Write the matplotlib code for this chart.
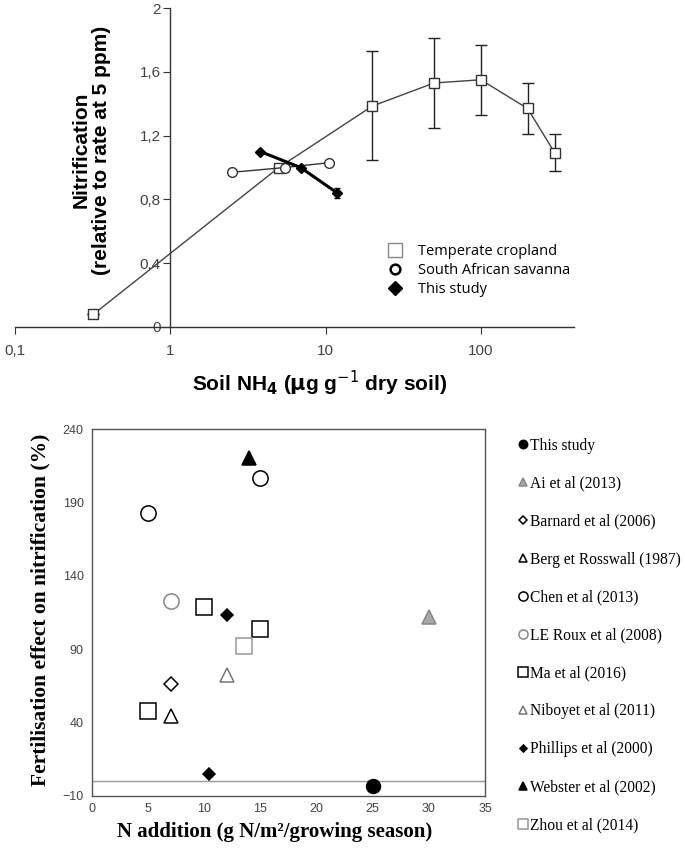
import matplotlib
matplotlib.use("Agg")
import matplotlib.pyplot as plt
from matplotlib.lines import Line2D
from matplotlib.ticker import FixedLocator, FuncFormatter, NullLocator

# ---------------- data: top panel ----------------
crop_x = [0.32, 5, 20, 50, 100, 200, 300]
crop_y = [0.08, 1.0, 1.385, 1.53, 1.55, 1.37, 1.09]
crop_err_lo = [0, 0, 0.335, 0.28, 0.22, 0.16, 0.11]
crop_err_hi = [0, 0, 0.345, 0.28, 0.22, 0.16, 0.12]

sav_x = [2.5, 5.5, 10.5]
sav_y = [0.97, 1.0, 1.03]

this_x = [3.8, 6.9, 11.9]
this_y = [1.10, 1.00, 0.84]
this_err = [0.0, 0.0, 0.03]

top_yticks = [0, 0.4, 0.8, 1.2, 1.6, 2]
top_xticks = [0.1, 1, 10, 100]
top_xticklabels = ["0,1", "1", "10", "100"]

# ---------------- data: bottom panel ----------------
studies = ["This study", "Ai et al (2013)", "Barnard et al (2006)", "Berg et Rosswall (1987)",
           "Chen et al (2013)", "LE Roux et al (2008)", "Ma et al (2016)", "Niboyet et al (2011)",
           "Phillips et al (2000)", "Webster et al (2002)", "Zhou et al (2014)"]
study_x = [[25], [30], [7], [7], [5, 15], [7], [5, 10, 15], [12], [12, 10.4], [14], [13.5]]
study_y = [[-3], [112], [66], [44.5], [183, 206.5], [123], [48, 119, 103.5], [72.5], [113, 5], [220], [92.5]]

bottom_xticks = [0, 5, 10, 15, 20, 25, 30, 35]
bottom_yticks = [-10, 40, 90, 140, 190, 240]

# marker styles (marker, facecolor, edgecolor, size)
styles = [
    ("o", "black", "black", 10),
    ("^", "#a8a8a8", "#888888", 10),
    ("D", "white", "black", 7),
    ("^", "white", "black", 10),
    ("o", "white", "black", 11),
    ("o", "white", "#888888", 11),
    ("s", "white", "black", 11),
    ("^", "white", "#777777", 10),
    ("D", "black", "black", 6),
    ("^", "black", "black", 10),
    ("s", "white", "#999999", 11),
]

plt.rcParams['font.family'] = ['Liberation Sans', 'DejaVu Sans']

fig = plt.figure(figsize=(6.85, 8.5), dpi=100)
W, H = 685, 850

# ================= TOP PANEL =================
ax1 = fig.add_axes([15 / W, 1 - 327 / H, (574 - 15) / W, (327 - 8) / H])
ax1.set_xscale("log")
ax1.set_xlim(0.1, 10 ** (2 + (574 - 481) / 155))
ax1.set_ylim(0, 2)
ax1.spines['top'].set_visible(False)
ax1.spines['right'].set_visible(False)
ax1.spines['left'].set_position(('data', 1))
for s in ['left', 'bottom']:
    ax1.spines[s].set_color('#333333')
    ax1.spines[s].set_linewidth(1.0)
ax1.xaxis.set_major_locator(FixedLocator(top_xticks))
ax1.xaxis.set_minor_locator(NullLocator())
ax1.set_xticklabels(top_xticklabels)
ax1.yaxis.set_major_locator(FixedLocator(top_yticks))
ax1.yaxis.set_major_formatter(FuncFormatter(lambda v, p: ("%g" % v).replace(".", ",")))
ax1.tick_params(axis='both', direction='out', length=5, color='#333333',
                labelsize=11, labelcolor='#444444')
ax1.tick_params(axis='x', pad=7)
ax1.tick_params(axis='y', pad=2)

ax1.errorbar(crop_x, crop_y, yerr=[crop_err_lo, crop_err_hi], color='#444444', lw=1.0,
             marker='s', ms=7, mfc='white', mec='#333333', mew=1.0, capsize=4,
             elinewidth=1.0, ecolor='#222222', zorder=3)
ax1.plot(sav_x, sav_y, color='#333333', lw=1.0, marker='o', ms=7, mfc='white',
         mec='#333333', mew=1.0, zorder=4)
ax1.errorbar(this_x, this_y, yerr=this_err, color='black', lw=2.2, marker='D', ms=5,
             mfc='black', mec='black', capsize=2, elinewidth=1.0, zorder=5)

h_top = [
    Line2D([], [], ls='none', marker='s', ms=10, mfc='white', mec='#888888', mew=1.0),
    Line2D([], [], ls='none', marker='o', ms=7, mfc='white', mec='black', mew=1.8),
    Line2D([], [], ls='none', marker='D', ms=7, mfc='black', mec='black'),
]
fig.legend(h_top, ["Temperate cropland", "South African savanna", "This study"],
           loc='upper left', bbox_to_anchor=(379 / W, 1 - 237 / H), frameon=False,
           prop={'family': 'Open Sans', 'size': 10.5}, handletextpad=1.0,
           labelspacing=0.28, borderpad=0, handlelength=1.2)

fig.text(91 / W, 1 - 150 / H, "Nitrification\n(relative to rate at 5 ppm)", rotation=90,
         ha='center', va='center', multialignment='center', fontsize=15,
         fontweight='bold', linespacing=1.1)
fig.text(320 / W, 1 - 383 / H,
         r"Soil NH$_\mathbf{4}$ ($\mathbf{\mu}$g g$^{\mathsf{-1}}$ dry soil)",
         ha='center', va='center', fontsize=15, fontweight='bold')

# ================= BOTTOM PANEL =================
ax2 = fig.add_axes([92 / W, 1 - 796 / H, (485 - 92) / W, (796 - 429) / H])
ax2.set_xlim(0, 35)
ax2.set_ylim(-10, 240)
for s in ax2.spines.values():
    s.set_color('#555555')
    s.set_linewidth(1.0)
ax2.axhline(0, color='#999999', lw=1.0, zorder=1)
ax2.xaxis.set_major_locator(FixedLocator(bottom_xticks))
ax2.yaxis.set_major_locator(FixedLocator(bottom_yticks))
ax2.tick_params(axis='both', length=0, labelsize=9, labelcolor='#444444')
ax2.tick_params(axis='x', pad=5)
ax2.tick_params(axis='y', pad=6)

handles = []
for name, xs, ys, (m, fc, ec, sz) in zip(studies, study_x, study_y, styles):
    ln, = ax2.plot(xs, ys, ls='none', marker=m, ms=sz, mfc=fc, mec=ec, mew=1.1,
                   label=name, zorder=3)
    handles.append(ln)

fig.legend(handles, studies, loc='upper left', bbox_to_anchor=(511 / W, 1 - 430 / H),
           frameon=False, prop={'family': 'Liberation Serif', 'size': 11.2},
           markerscale=0.6, handlelength=0.5, handletextpad=0.2,
           labelspacing=1.41, borderpad=0)

fig.text(40 / W, 1 - 610 / H, "Fertilisation effect on nitrification (%)", rotation=90,
         ha='center', va='center', fontsize=15.5, fontweight='bold',
         family='Liberation Serif')
fig.text(275 / W, 1 - 832 / H, "N addition (g N/m²/growing season)",
         ha='center', va='center', fontsize=15, fontweight='bold',
         family='Liberation Serif')

fig.savefig("out.png", dpi=100)
